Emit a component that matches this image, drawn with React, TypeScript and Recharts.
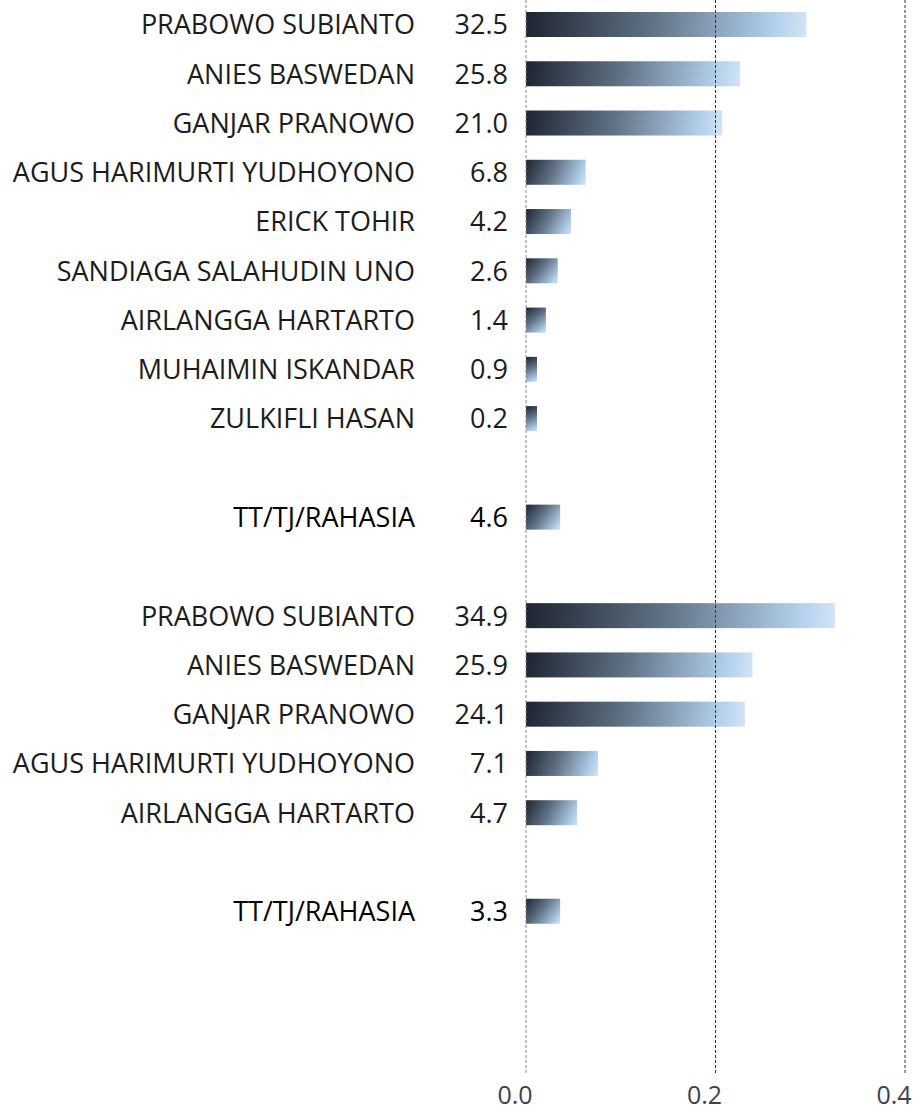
import { BarChart, Bar, XAxis, YAxis, ReferenceLine } from 'recharts';

// rows top to bottom; empty strings are spacer rows
const names = [
  'PRABOWO SUBIANTO', 'ANIES BASWEDAN', 'GANJAR PRANOWO', 'AGUS HARIMURTI YUDHOYONO',
  'ERICK TOHIR', 'SANDIAGA SALAHUDIN UNO', 'AIRLANGGA HARTARTO', 'MUHAIMIN ISKANDAR',
  'ZULKIFLI HASAN', '', 'TT/TJ/RAHASIA', '',
  'PRABOWO SUBIANTO', 'ANIES BASWEDAN', 'GANJAR PRANOWO', 'AGUS HARIMURTI YUDHOYONO',
  'AIRLANGGA HARTARTO', '', 'TT/TJ/RAHASIA',
];

// printed numbers next to the names
const valueLabels = [
  '32.5', '25.8', '21.0', '6.8', '4.2', '2.6', '1.4', '0.9', '0.2', '', '4.6', '',
  '34.9', '25.9', '24.1', '7.1', '4.7', '', '3.3',
];

// bar lengths as drawn (on the 0–0.4 axis)
const barValues = [
  0.296, 0.226, 0.207, 0.063, 0.0475, 0.0335, 0.021, 0.0116, 0.0116, null, 0.036, null,
  0.326, 0.239, 0.231, 0.076, 0.054, null, 0.036,
];

const xTicks = [0, 0.2, 0.4];

const data = names.map((n, i) => ({ id: `r${i}`, idx: i, value: barValues[i] }));

const FONT = '"Open Sans", "Noto Sans", sans-serif';

function RowTick(props: any) {
  const { y, payload } = props;
  const i = Number(String(payload.value).slice(1));
  const total = names[i] === 'TT/TJ/RAHASIA';
  const color = total ? '#000' : '#1c1c1c';
  const weight = total ? 500 : 400;
  return (
    <g>
      <text x={415} y={y} dy="0.36em" textAnchor="end" fontSize={27} fill={color}
        fontFamily={FONT} fontWeight={weight}>
        {names[i]}
      </text>
      <text x={508} y={y} dy="0.36em" textAnchor="end" fontSize={27} fill={color}
        fontFamily={FONT} fontWeight={weight}>
        {valueLabels[i]}
      </text>
    </g>
  );
}

function AxisTick(props: any) {
  const { x, payload } = props;
  return (
    <text x={x - 11} y={1104} textAnchor="middle" fontSize={25} fill="#3a4250" fontFamily={FONT}>
      {Number(payload.value).toFixed(1)}
    </text>
  );
}

// each bar gets its own diagonal gradient, dark at the left end, pale at the right end
function GradBar(props: any) {
  const { x, y, width, height, index } = props;
  if (!width || width <= 0) return null;
  const gid = `g${index}`;
  return (
    <g>
      <defs>
        <linearGradient id={gid} gradientUnits="userSpaceOnUse" x1={x} y1={y} x2={x + width} y2={y + height}>
          <stop offset="0%" stopColor="#1e2431" />
          <stop offset="45%" stopColor="#607285" />
          <stop offset="88%" stopColor="#b2cfeb" />
          <stop offset="100%" stopColor="#d3e4f6" />
        </linearGradient>
      </defs>
      <rect x={x} y={y} width={width} height={height} fill={`url(#${gid})`} />
    </g>
  );
}

export default function App() {
  return (
    <div style={{ position: 'absolute', left: 0, top: 0 }}>
      <BarChart
        width={917}
        height={1114}
        data={data}
        layout="vertical"
        margin={{ top: 0, right: 12, bottom: 0, left: 0 }}
        barCategoryGap={0}
      >
        <XAxis
          type="number"
          domain={[0, 0.4]}
          ticks={xTicks}
          height={41}
          axisLine={false}
          tickLine={false}
          tick={<AxisTick />}
        />
        <YAxis
          type="category"
          dataKey="id"
          width={526}
          axisLine={false}
          tickLine={false}
          interval={0}
          padding={{ top: 0, bottom: 137 }}
          tick={<RowTick />}
        />
        <ReferenceLine x={0} stroke="#888" strokeDasharray="3 2" />
        <ReferenceLine x={0.2} stroke="#333" strokeDasharray="3 2" />
        <ReferenceLine x={0.4} stroke="#333" strokeDasharray="3 2" />
        <Bar dataKey="value" barSize={25} shape={<GradBar />} isAnimationActive={false} />
      </BarChart>
    </div>
  );
}
